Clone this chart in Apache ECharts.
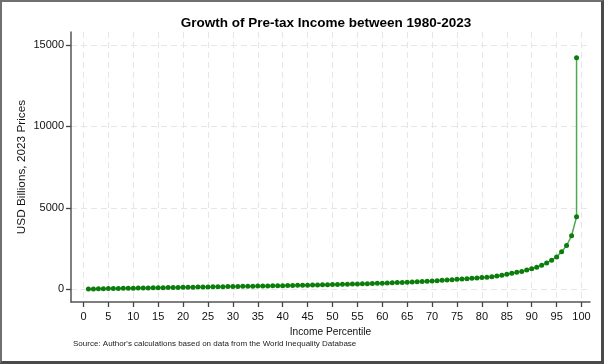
<!DOCTYPE html>
<html>
<head>
<meta charset="utf-8">
<script src="https://cdn.jsdelivr.net/npm/echarts@6/dist/echarts.min.js"></script>
<style>
html,body{margin:0;padding:0;background:#fff;}
#wrap{position:relative;width:604px;height:364px;}
#chart{position:absolute;left:0;top:0;width:604px;height:364px;}
#frame{position:absolute;left:0;top:0;width:604px;height:364px;box-sizing:border-box;border-left:2px solid #707070;border-top:2px solid #707070;border-right:3px solid #4a4a4a;border-bottom:3px solid #4a4a4a;pointer-events:none;}
</style>
</head>
<body>
<div id="wrap"><div id="chart"></div><div id="frame"></div></div>
<script>
const percentiles = [1,2,3,4,5,6,7,8,9,10,11,12,13,14,15,16,17,18,19,20,21,22,23,24,25,26,27,28,29,30,31,32,33,34,35,36,37,38,39,40,41,42,43,44,45,46,47,48,49,50,51,52,53,54,55,56,57,58,59,60,61,62,63,64,65,66,67,68,69,70,71,72,73,74,75,76,77,78,79,80,81,82,83,84,85,86,87,88,89,90,91,92,93,94,95,96,97,98,99,99];
const incomeGrowth = [20,25,30,35,42,47,52,57,62,68,73,78,83,88,94,99,104,109,114,120,125,130,135,140,145,150,155,160,165,170,175,180,185,190,195,200,206,212,218,224,230,236,242,248,255,262,269,276,283,290,298,306,314,322,330,339,348,357,366,375,387,400,412,425,440,455,470,485,498,512,531,551,571,592,612,633,653,674,697,720,745,776,815,855,920,980,1040,1100,1180,1265,1360,1480,1620,1790,1990,2300,2690,3290,4450,14220];
const xTicks = [0,5,10,15,20,25,30,35,40,45,50,55,60,65,70,75,80,85,90,95,100];
const yTicks = [0,5000,10000,15000];

const chart = echarts.init(document.getElementById('chart'), null, {renderer:'canvas'});
const FONT = '"Liberation Sans", Arial, sans-serif';
const gridDash = {color:'#e6e6e6', width:1, type:[6,4]};
chart.setOption({
  animation:false,
  backgroundColor:'#ffffff',
  title:{
    text:'Growth of Pre-tax Income between 1980-2023',
    left:321, textAlign:'center', top:11,
    textStyle:{fontFamily:FONT, fontSize:13.5, fontWeight:'bold', color:'#000'}
  },
  graphic:[{
    type:'text', left:73, top:340,
    style:{text:"Source: Author's calculations based on data from the World Inequality Database", font:'8px "Liberation Sans", Arial, sans-serif', fill:'#222'}
  }],
  grid:{left:71, right:14, top:32, bottom:62, containLabel:false},
  xAxis:[{
    type:'value', min:-2.5, max:101.7,
    name:'Income Percentile', nameLocation:'middle', nameGap:21,
    nameTextStyle:{fontFamily:FONT, fontSize:10.2, color:'#111'},
    axisLine:{show:true, onZero:false, lineStyle:{color:'#555', width:1.5}},
    axisTick:{show:true, customValues:xTicks, length:5, lineStyle:{color:'#444', width:1.3}},
    axisLabel:{customValues:xTicks, fontFamily:FONT, fontSize:11, color:'#111', margin:9},
    splitLine:{show:true, lineStyle:gridDash}
  }],
  yAxis:{
    type:'value', min:-780, max:15800,
    name:'USD Billions, 2023 Prices', nameLocation:'middle', nameGap:43, nameRotate:90,
    nameMoveOverlap:false,
    nameTextStyle:{fontFamily:FONT, fontSize:11.8, color:'#111'},
    axisLine:{show:true, onZero:false, lineStyle:{color:'#555', width:1.5}},
    axisTick:{show:true, customValues:yTicks, length:5, lineStyle:{color:'#444', width:1.3}},
    axisLabel:{customValues:yTicks, formatter:v=>String(v), fontFamily:FONT, fontSize:11, color:'#111', margin:7},
    splitLine:{show:true, lineStyle:gridDash}
  },
  series:[{
    type:'line',
    data: percentiles.map((p,i)=>[p, incomeGrowth[i]]),
    symbol:'circle', symbolSize:5,
    itemStyle:{color:'#0a7d0a'},
    lineStyle:{color:'#4fa84f', width:1.5},
    z:3
  }]
});
</script>
</body>
</html>
